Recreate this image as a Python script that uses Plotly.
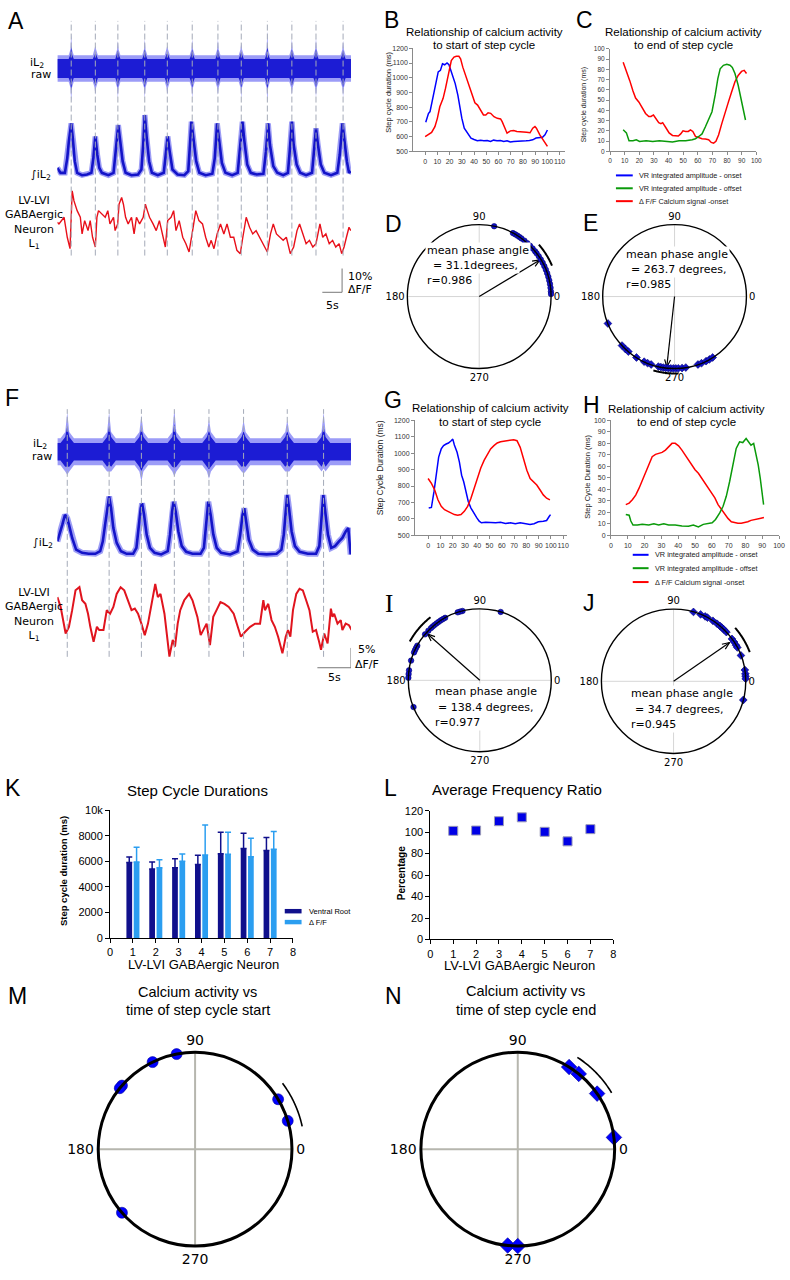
import numpy as np
import plotly.graph_objects as go

W, H = 790, 1280
def PX(x): return x / W
def PY(y): return 1 - y / H

SANS = "Liberation Sans, Arial, sans-serif"
VER = "DejaVu Sans, Verdana, sans-serif"
SERIF = "Liberation Serif, Times New Roman, serif"

# ================= DATA =================
# Panel A (time in s, red trace in % dF/F, raw / integrated VR in a.u.)
A_onsets = [3.5, 9.6, 15.3, 22.1, 27.8, 34.1, 40.6, 46.5, 53.1, 59.3, 65.4, 72.25]
A_raw_top = [14.6, 9.6, 11.7, 12.5, 9.6, 12.5, 12.5, 10.8, 15.8, 12.5, 12.9, 11.7]
A_raw_bot = [-14.2, -11.2, -12.5, -12.5, -11.2, -12.5, -11.2, -12.5, -14.2, -11.2, -12.1, -12.1]
A_raw_band = 5.6
A_raw_core = 4.0
A_raw_burst = 8.0
A_int_t = [0, 0.8, 1.9, 2.5, 2.9, 3.5, 3.9, 4.4, 5.0, 6.25, 7.5, 8.6, 9.1, 9.6, 10.1, 10.6, 11.25, 12.9, 14.2, 14.6,
           15, 15.4, 15.9, 16.5, 17.25, 18.75, 20.4, 21.25, 21.7, 22.1, 22.6, 23.2, 23.9, 25.4, 26.9, 27.4, 27.9, 28.4, 29.1, 30.4,
           32.1, 33.1, 33.5, 33.9, 34.4, 35.1, 35.9, 37.5, 39.2, 39.8, 40.4, 40.9, 41.6, 42.5, 44.2, 45.6, 46.25, 46.8, 47.3, 48,
           48.9, 50.4, 52.1, 52.75, 53.3, 53.75, 54.6, 55.6, 57.1, 58.3, 58.75, 59.3, 59.75, 60.5, 61.4, 62.9, 64.4, 64.9, 65.4, 65.9,
           66.6, 67.5, 69.2, 70.8, 71.4, 72.1, 72.6, 73.2, 73.75, 74.2]
A_int_v = [2.8, 0.7, 0.7, 6.9, 13.9, 21.5, 15.3, 5.6, 0.7, -0.3, 0, 0.7, 6.9, 16, 8.3, 2.8, 0.7, -0.3, 0.7, 6.9,
           15.3, 20.8, 13.9, 5.6, 0.7, -0.3, 0, 2.1, 12.5, 25, 15.3, 5.6, 0.7, -0.3, 0.7, 8.3, 16, 9.7, 2.1, 0,
           -0.3, 1.4, 12.5, 22.2, 15.3, 5.6, 0.7, -0.3, 0.3, 6.9, 21.5, 13.9, 4.9, 0.7, -0.3, 0.7, 11.1, 22.2, 13.9, 4.2,
           0.7, 0, 0.3, 9.7, 21.5, 12.5, 3.5, 0.7, -0.3, 0.7, 9.7, 22.2, 12.5, 4.2, 0.7, -0.3, 0.7, 9.7, 19.4, 12.5,
           4.2, 0.7, -0.3, 0.7, 8.3, 21.5, 13.9, 5.6, 0.7, 1.4]
A_red_t = [0, 0.4, 1.7, 2.5, 3.2, 3.75, 4.2, 5.0, 5.8, 6.25, 6.9, 7.75, 8.3, 8.9, 9.6, 10.0, 10.4, 11.25, 12.1, 12.75,
           13.3, 14.2, 14.6, 15.25, 15.6, 16.25, 16.7, 17.25, 17.9, 18.75, 19.4, 20.0, 20.8, 21.7, 22.25, 22.75, 23.3, 24.2, 25.0, 25.8,
           26.7, 27.3, 27.9, 28.75, 29.4, 30.0, 30.8, 31.7, 32.5, 33.3, 34.2, 35.0, 35.8, 36.7, 37.5, 38.3, 38.9, 39.6, 40.4, 41.25,
           42.1, 42.9, 43.75, 44.6, 45.4, 46.25, 46.9, 47.75, 48.6, 49.4, 50.25, 51.1, 52.1, 53.1, 53.9, 54.6, 55.4, 56.25, 57.1, 57.9,
           58.9, 59.75, 60.6, 61.25, 62.1, 62.9, 63.75, 64.6, 65.4, 66.4, 67.1, 67.9, 68.75, 69.6, 70.4, 71.25, 71.9, 72.5, 73.1, 73.75, 74.2]
A_red_v = [13.2, 12.5, 15.3, 6.9, 2.1, 26.4, 22.2, 18.1, 15.3, 8.3, 13.9, 9.7, 13.9, 6.9, 2.8, 15.3, 18.1, 16.7, 15.3, 18.1,
           12.5, 15.3, 9.7, 12.5, 20.8, 23.6, 20.8, 15.3, 12.5, 15.3, 8.3, 15.3, 12.5, 15.3, 20.8, 18.1, 15.3, 12.5, 9.7, 13.9,
           6.9, 2.8, 13.9, 15.3, 18.1, 9.7, 13.9, 6.9, 4.2, 0.7, 9.7, 18.1, 13.9, 12.5, 6.9, 2.8, 5.6, 2.1, 8.3, 12.5,
           8.3, 12.5, 6.9, 6.9, 1.4, 0, 6.9, 15.3, 11.1, 8.3, 9.7, 6.9, 4.2, 0.7, 8.3, 12.5, 8.3, 6.9, 5.6, 6.9,
           0, 2.8, 9.7, 12.5, 8.3, 4.2, 5.6, 2.8, 4.2, 12.5, 6.9, 8.3, 4.2, 5.6, 2.8, 4.2, 0, 2.8, 6.9, 11.1, 9.7]
A_end = 74.25
A_bar_pct, A_bar_s = 10, 5

# Panel F
F_onsets = [1.47, 7.7, 12.5, 17.4, 22.55, 27.7, 34.2, 39.6]
F_raw_top = [10.0, 10.0, 9.2, 10.8, 8.2, 8.0, 8.0, 10.0]
F_raw_bot = [-5.8, -5.0, -7.5, -6.2, -6.8, -5.5, -5.0, -4.2]
F_raw_band = 3.4
F_raw_core = 2.2
F_raw_burst = 5.0
F_int_t = [0, 0.34, 0.74, 1.13, 1.47, 1.72, 2.2, 2.79, 3.68, 4.66, 5.64, 6.37, 6.76, 7.1, 7.4, 7.7, 7.99, 8.33, 8.82, 9.46,
           10.3, 11.27, 11.76, 12.1, 12.4, 12.6, 12.9, 13.28, 13.77, 14.46, 15.44, 16.42, 16.76, 17.06, 17.3, 17.6, 18, 18.5, 19.17, 20.1,
           21.3, 21.8, 22.16, 22.45, 22.8, 23.2, 23.7, 24.36, 25.7, 26.8, 27.2, 27.55, 27.8, 28.1, 28.48, 29.07, 29.9, 31.13, 32.6, 33.33,
           33.68, 33.97, 34.2, 34.46, 34.85, 35.34, 36.03, 37.25, 38.48, 38.97, 39.26, 39.56, 39.85, 40.25, 40.74, 41.3, 41.9, 42.4, 42.9, 43.28, 43.63]
F_int_v = [2.9, 4.6, 7.1, 9.6, 8.75, 7.1, 3.75, 0.8, 0, -0.25, -0.25, 0.4, 2.9, 7.1, 11.25, 14.2, 11.25, 6.25, 2.5, 0.4,
           -0.25, -0.25, 1.25, 6.25, 11.25, 12.5, 9.6, 4.6, 1.25, 0, -0.4, 0.4, 4.6, 10.4, 12.9, 10.4, 5.4, 1.7, 0.25, -0.25,
           -0.25, 1.25, 7.9, 12.9, 9.6, 4.6, 1.25, 0, -0.4, 0.4, 4.6, 9.6, 11.25, 7.9, 3.3, 0.8, -0.25, -0.4, -0.25, 0.8,
           4.6, 10.4, 14.6, 11.25, 5.4, 1.7, 0.25, -0.25, -0.25, 1.7, 7.9, 14.6, 10.4, 4.6, 1.25, 1.7, 2.9, 3.75, 5.4, 6.25, -0.4]
F_red_t = [0, 0.49, 1.23, 1.72, 2.2, 2.7, 3.28, 3.68, 4.17, 4.56, 4.9, 5.39, 5.88, 6.23, 6.86, 7.35, 7.84, 8.33, 8.82, 9.41,
           9.95, 10.44, 11.03, 11.52, 12.0, 12.5, 13.0, 13.48, 13.97, 14.56, 14.95, 15.34, 15.93, 16.32, 16.67, 17.16, 17.5, 17.9, 18.28, 18.87,
           19.6, 20.1, 20.83, 21.32, 21.91, 22.2, 22.7, 23.19, 23.68, 24.26, 24.85, 25.49, 26.23, 26.8, 27.3, 27.94, 28.68, 29.41, 30.15, 30.64,
           30.88, 31.37, 31.86, 32.35, 32.84, 33.48, 33.97, 34.31, 34.66, 35.05, 35.54, 36.03, 36.52, 37.01, 37.5, 37.99, 38.48, 38.87, 39.22, 39.7,
           40.2, 40.69, 40.93, 41.18, 41.67, 42.16, 42.4, 42.89, 43.38, 43.77]
F_red_v = [15, 12.5, 5.8, 7.5, 11.7, 16.7, 17.5, 14.2, 13.3, 10.8, 7.5, 3.75, 7.5, 6.7, 6.7, 11.7, 10.8, 12.5, 15.8, 17.5,
           16.7, 14.2, 11.7, 12.1, 10.8, 8.3, 5.4, 8.3, 12.5, 18.3, 15, 15.8, 10.8, 5, 0, 4.2, 2.5, 8.3, 11.7, 14.2,
           15.8, 14.2, 10, 5.4, 7.5, 8.3, 2.9, 10, 11.7, 13.75, 13.3, 12.5, 10.8, 7.5, 5, 6.25, 7.5, 8.3, 8.3, 14.2,
           11.7, 13.3, 9.2, 7.5, 5, 0.8, 5, 6.7, 5, 11.7, 15.8, 17.1, 16.7, 14.2, 11.7, 6.25, 6.7, 4.2, 1.7, 5.8,
           3.3, 12.1, 10, 10.8, 8.3, 9.2, 6.7, 8.3, 7.9, 6.7]
F_end = 43.68
F_bar_pct, F_bar_s = 5, 5

# Panel B (phase %, step cycle duration ms)
B_blue_x = [0.5, 2.7, 4, 6.7, 8.8, 10.7, 12.5, 14.2, 16, 17.9, 19.5, 20.9, 22.7, 24.6, 26.8, 28.4, 30, 32, 34.8, 37.5,
            40, 42.7, 45.4, 48, 50.8, 53.5, 56, 58.8, 61.6, 64.3, 67, 69.7, 72.4, 75, 77.8, 80, 82.6, 85.3, 88, 90.7, 93.3, 96, 98, 100]
B_blue_y = [697, 757, 770, 880, 970, 1040, 1050, 1095, 1088, 1100, 1088, 1050, 1005, 960, 880, 790, 725, 657, 623, 590,
            580, 572, 576, 572, 574, 567, 576, 572, 574, 567, 572, 563, 567, 567, 572, 567, 572, 574, 578, 590, 594, 596, 612, 645]
B_red_x = [0, 2.7, 5.3, 8, 10, 12, 14.7, 16.6, 18.8, 20, 21.4, 23.6, 25.5, 27.6, 29, 30.8, 33.5, 36.2, 38.8, 40.7,
           42.9, 45.6, 47.7, 49.6, 51.5, 53.6, 56.3, 59, 61.7, 63, 64.9, 67, 69.7, 72.4, 75, 77.8, 80.4, 83, 85.8, 88,
           89.8, 91, 93.8, 96.5, 98.6, 100]
B_red_y = [600, 612, 628, 668, 724, 803, 860, 926, 1016, 1072, 1117, 1140, 1146, 1146, 1128, 1072, 1005, 937, 881, 830,
           814, 780, 747, 747, 762, 758, 735, 724, 720, 702, 668, 623, 639, 641, 635, 635, 635, 630, 626, 657,
           668, 657, 612, 578, 545, 534]
# Panel C
C_red_x = [9, 11.2, 13.5, 15.7, 17.5, 19.8, 22, 24.3, 26.5, 28, 29.7, 31.5, 33.3, 34.8, 36, 38.2, 40.4, 42.7, 45, 46.7,
           48.3, 49.9, 51.7, 53.5, 55, 56.6, 58.4, 60.7, 62.9, 65.2, 67.4, 69.2, 70.8, 72.4, 74.2, 76.4, 78.7, 80.9, 83.1, 85.4,
           87.6, 89.9, 91.7, 93.3]
C_red_y = [87, 79, 69, 59, 52, 48, 42, 37, 34, 34, 35.5, 32, 28, 27, 28, 23, 18, 15.5, 15, 15,
           17, 20, 19.4, 19.4, 21, 19.4, 14.5, 13, 12.3, 12, 11.3, 8.7, 8, 9.7, 16, 27, 39, 48, 58, 68,
           74, 78, 79, 76]
C_green_x = [9, 11.2, 13, 15.7, 18, 20.2, 24.7, 29.2, 33.7, 38.2, 42.7, 47.2, 51.7, 56.2, 58.4, 60.7, 62.9, 65.2, 67.4, 69.7,
             71.9, 73.7, 75.3, 77.5, 79.8, 82, 83.6, 85.4, 87.6, 89.4, 91, 92.6]
C_green_y = [21, 18, 10.3, 10.3, 11.3, 9.7, 10.3, 9.7, 10.3, 9.7, 9, 10.3, 10.3, 11.3, 12.3, 14.5, 17, 24, 30.6, 38.7,
             55, 71, 80.6, 84, 85, 84, 82, 76, 64.5, 53, 42, 30.6]
# Panel G
G_blue_x = [0.5, 2.7, 4.8, 6.7, 8.6, 10.7, 12.6, 14.7, 16.6, 18.8, 20.1, 21.4, 23.6, 25.5, 27.3, 29, 30.8, 32.7, 34.9, 37,
            39.7, 41.6, 43.4, 46.9, 50.9, 55, 59, 63, 67, 71, 75, 79, 83, 86.3, 89.8, 93.8, 96.5, 98.7, 99.7]
G_blue_y = [666, 670, 766, 886, 976, 1026, 1046, 1056, 1062, 1076, 1086, 1050, 1006, 946, 866, 826, 766, 706, 666, 636,
            606, 586, 576, 580, 576, 576, 580, 572, 576, 570, 576, 570, 566, 570, 582, 586, 590, 616, 626]
G_red_x = [0, 2.7, 5.4, 8, 10.7, 13.4, 16.1, 18.8, 21.4, 24.1, 26.8, 29.5, 32.2, 34.9, 37.5, 40.2, 42.9, 45.6, 48.3, 50.9,
           53.6, 56.3, 59, 61.7, 64.3, 67, 69.7, 72.4, 75, 77.7, 80.4, 83.1, 85.8, 88.5, 91.2, 93.8, 96.5, 99.2]
G_red_y = [846, 816, 776, 716, 676, 656, 646, 636, 626, 622, 626, 646, 676, 726, 786, 856, 910, 956, 996, 1026,
           1046, 1062, 1070, 1072, 1076, 1080, 1082, 1076, 1036, 966, 896, 846, 826, 806, 776, 746, 726, 716]
# Panel H
H_red_x = [8.8, 10.8, 12.7, 14.7, 16.7, 18.6, 20.6, 22.5, 24.5, 26.5, 28.4, 30.4, 32.4, 34.3, 36.3, 38.2, 40.2, 42.2, 44.1, 46.1,
           48, 50, 52, 53.9, 55.9, 57.8, 59.8, 61.8, 63.7, 65.7, 67.6, 69.6, 71.6, 73.5, 75.5, 77.5, 79.4, 81.4, 83.3, 85.3,
           87.3, 89.2, 91]
H_red_y = [26.7, 28, 31, 35, 41, 48, 55.5, 62.6, 68.4, 70.4, 71.3, 72.1, 74.1, 77, 80, 80, 77.9, 74.1, 69.8, 65.5,
           61.2, 57, 54, 49.7, 45.4, 41, 36.8, 32.5, 26.7, 22.4, 18.7, 14.7, 11.8, 10.9, 10.5, 10.5, 10.9, 11.8, 13, 13.8,
           14.3, 14.8, 15.4]
H_green_x = [8.8, 10.8, 11.8, 13.1, 15.7, 18.6, 22.5, 25.5, 28.4, 31.4, 34.3, 38.2, 42.2, 46.1, 49, 52, 54.9, 57.8, 60.2, 62.2,
             64.7, 66.7, 68.6, 70.6, 72.5, 74.5, 76.5, 78.4, 80.4, 81.8, 83.3, 84.9, 86.3, 87.6, 88.8, 89.8, 90.8]
H_green_y = [18.1, 17.5, 12.4, 8.9, 8.9, 9.5, 8.9, 10, 8.9, 10, 8.9, 8.9, 8, 7.8, 8.9, 7.2, 9.5, 10, 10.9, 13.8,
             19.5, 25.3, 33.9, 46.8, 61.2, 75.6, 81.3, 80.7, 84.2, 81.3, 78.4, 79.9, 71.3, 61.2, 49.7, 38.2, 26.7]

# Circular plots (phase angles in degrees)
D_angles = [78, 62, 60, 58, 56, 54, 51, 48, 45, 42, 39, 37, 34, 31, 28, 25, 22, 19, 16, 13, 10, 7, 4, 2]
D_mean, D_r, D_ci = 31.1, 0.986, [23, 41]
E_angles = [202, 223, 227, 230, 238, 245, 248, 251, 257, 259, 261, 263, 265, 267, 269, 271, 273, 276, 279, 289, 292, 296, 299, 302]
E_mean, E_r, E_ci = 263.7, 0.985, [254, 273]
I_angles = [73, 104, 106, 108, 119, 121, 123, 125, 127, 129, 131, 133, 136, 140, 151, 153, 155, 157, 164, 172, 175, 178, 202]
I_mean, I_r, I_ci = 138.4, 0.977, [128, 151]
J_angles = [74, 68, 64, 62, 57, 53, 50, 48, 46, 43, 36, 33, 30, 28, 21, 9, 6, 4, 2, 345]
J_mean, J_r, J_ci = 34.7, 0.945, [21, 41]
M_angles = [17, 31, 101, 116, 139, 141, 221]
M_ci = [12, 37]
N_angles = [7, 35, 51, 58, 264, 270]
N_ci = [31, 57]

# Panel K / L
neurons = [1, 2, 3, 4, 5, 6, 7]
K_vr = [5900, 5400, 5500, 5750, 6600, 7000, 6850]
K_vr_err = [440, 550, 700, 720, 1670, 1200, 1010]
K_df = [5950, 5500, 6000, 6500, 6550, 6350, 6950]
K_df_err = [1140, 630, 570, 2340, 1720, 1460, 1380]
L_ratio = [101.2, 101.5, 110.2, 113.8, 100.3, 91.4, 102.8]

# ================= FIGURE =================
fig = go.Figure()
ann, shapes = [], []

def tr(**kw):
    kw.setdefault('hoverinfo', 'skip')
    kw.setdefault('showlegend', False)
    fig.add_trace(go.Scatter(**kw))

def text(s, x, y, size, family=SANS, xanchor='center', yanchor='middle', color='black', angle=0, bg=None):
    d = dict(text=s, x=PX(x), y=PY(y), xref='paper', yref='paper', showarrow=False,
             xanchor=xanchor, yanchor=yanchor, textangle=angle,
             font=dict(family=family, size=size, color=color))
    if bg:
        d['bgcolor'] = bg
    ann.append(d)

def raw_band(onsets, tops, bots, band, burst, core, t_end, w1, w2, c, xa, ya):
    ts, up, lo, cu, cl = [0.0], [band], [-band], [core], [-core]
    for td, tp, bt in zip(onsets, tops, bots):
        ts += [td - w1, td - w2, td, td + w2, td + w1]
        up += [band, burst, tp, burst, band]
        lo += [-band, -burst, bt, -burst, -band]
        cu += [core, burst * 0.75, tp * 0.65, burst * 0.75, core]
        cl += [-core, -burst * 0.75, bt * 0.65, -burst * 0.75, -core]
    ts.append(t_end); up.append(band); lo.append(-band); cu.append(core); cl.append(-core)
    xs = ts + ts[::-1]
    tr(x=xs, y=[c + v for v in up] + [c + v for v in lo[::-1]], mode='lines', fill='toself',
       fillcolor='rgba(90,90,242,0.6)', line=dict(width=0), xaxis=xa, yaxis=ya)
    tr(x=xs, y=[c + v for v in cu] + [c + v for v in cl[::-1]], mode='lines', fill='toself',
       fillcolor='#1c1cd4', line=dict(width=0), xaxis=xa, yaxis=ya)

def vdash(onsets, y0, y1, xa, ya):
    xs, ys = [], []
    for t in onsets:
        xs += [t, t, None]; ys += [y0, y1, None]
    tr(x=xs, y=ys, mode='lines', line=dict(color='#a4aab8', width=1, dash='6px,3px'), xaxis=xa, yaxis=ya)

# ---- Panel A ----
A_RAW, A_INT, A_RED, A_DASH, A_BARY, A_BART = 102.9, 58.3, 25.0, (24.2, 122.9), 8.75, 72.0
raw_band(A_onsets, A_raw_top, A_raw_bot, A_raw_band, A_raw_burst, A_raw_core, A_end, 0.65, 0.2, A_RAW, 'x', 'y')
tr(x=A_int_t, y=[A_INT + v for v in A_int_v], mode='lines', line=dict(color='rgba(60,60,235,0.5)', width=5.5), xaxis='x', yaxis='y')
tr(x=A_int_t, y=[A_INT + v for v in A_int_v], mode='lines', line=dict(color='#1414c8', width=2.6), xaxis='x', yaxis='y')
tr(x=A_red_t, y=[A_RED + v for v in A_red_v], mode='lines', line=dict(color='#e8101a', width=1.4), xaxis='x', yaxis='y')
vdash(A_onsets, *A_DASH, 'x', 'y')
tr(x=[A_BART - A_bar_s, A_BART, A_BART], y=[A_BARY, A_BARY, A_BARY + A_bar_pct], mode='lines',
   line=dict(color='#777777', width=1), xaxis='x', yaxis='y')

# ---- Panel F ----
F_RAW, F_INT, F_RED, F_DASH, F_BARY, F_BART = 57.5, 32.0, 5.83, (5.75, 68.25), 3.0, 43.68
raw_band(F_onsets, F_raw_top, F_raw_bot, F_raw_band, F_raw_burst, F_raw_core, F_end, 1.0, 0.3, F_RAW, 'x4', 'y4')
tr(x=F_int_t, y=[F_INT + v for v in F_int_v], mode='lines', line=dict(color='rgba(60,60,235,0.5)', width=6), xaxis='x4', yaxis='y4')
tr(x=F_int_t, y=[F_INT + v for v in F_int_v], mode='lines', line=dict(color='#1414c8', width=2.6), xaxis='x4', yaxis='y4')
tr(x=F_red_t, y=[F_RED + v for v in F_red_v], mode='lines', line=dict(color='#e0141e', width=2), xaxis='x4', yaxis='y4')
vdash(F_onsets, *F_DASH, 'x4', 'y4')
tr(x=[F_BART - F_bar_s, F_BART, F_BART], y=[F_BARY, F_BARY, F_BARY + F_bar_pct], mode='lines',
   line=dict(color='#777777', width=1), xaxis='x4', yaxis='y4')

# ---- B, C, G, H curves ----
BLUE, GREEN, RED = '#0000ff', '#0a9a0a', '#ff0000'
tr(x=B_blue_x, y=B_blue_y, mode='lines', line=dict(color=BLUE, width=1.5), xaxis='x2', yaxis='y2')
tr(x=B_red_x, y=B_red_y, mode='lines', line=dict(color=RED, width=1.5), xaxis='x2', yaxis='y2')
tr(x=C_red_x, y=C_red_y, mode='lines', line=dict(color=RED, width=1.5), xaxis='x3', yaxis='y3')
tr(x=C_green_x, y=C_green_y, mode='lines', line=dict(color=GREEN, width=1.5), xaxis='x3', yaxis='y3')
tr(x=G_blue_x, y=G_blue_y, mode='lines', line=dict(color=BLUE, width=1.5), xaxis='x5', yaxis='y5')
tr(x=G_red_x, y=G_red_y, mode='lines', line=dict(color=RED, width=1.5), xaxis='x5', yaxis='y5')
tr(x=H_red_x, y=H_red_y, mode='lines', line=dict(color=RED, width=1.5), xaxis='x6', yaxis='y6')
tr(x=H_green_x, y=H_green_y, mode='lines', line=dict(color=GREEN, width=1.5), xaxis='x6', yaxis='y6')

# ---- K bars ----
DARK, LIGHT = '#10108c', '#2b9ef0'
fig.add_trace(go.Bar(x=neurons, y=K_vr, width=0.25, offset=-0.285, marker=dict(color=DARK, line=dict(width=0)),
                     error_y=dict(type='data', array=K_vr_err, arrayminus=[0] * 7, symmetric=False, color=DARK, thickness=1.5, width=3),
                     xaxis='x7', yaxis='y7', showlegend=False, hoverinfo='skip'))
fig.add_trace(go.Bar(x=neurons, y=K_df, width=0.25, offset=0.035, marker=dict(color=LIGHT, line=dict(width=0)),
                     error_y=dict(type='data', array=K_df_err, arrayminus=[0] * 7, symmetric=False, color=LIGHT, thickness=1.5, width=3),
                     xaxis='x7', yaxis='y7', showlegend=False, hoverinfo='skip'))
# ---- L markers ----
tr(x=neurons, y=L_ratio, mode='markers', marker=dict(symbol='square', size=9, color='#0000e6', line=dict(color='#9a9ab8', width=1)),
   xaxis='x8', yaxis='y8')

# ---- circular plots ----
def arrow_head(theta, R, h=0.11, spread=22):
    th = np.radians(theta)
    tip = np.array([R * np.cos(th), R * np.sin(th)])
    back = -tip / np.linalg.norm(tip)
    rs, ts = [], []
    for s in (spread, None, -spread):
        if s is None:
            rs.append(R); ts.append(theta); continue
        c, si = np.cos(np.radians(s)), np.sin(np.radians(s))
        d = np.array([c * back[0] - si * back[1], si * back[0] + c * back[1]])
        p = tip + h * d
        rs.append(float(np.hypot(*p))); ts.append(float(np.degrees(np.arctan2(p[1], p[0]))))
    return rs, ts

def ptr(**kw):
    kw.setdefault('hoverinfo', 'skip'); kw.setdefault('showlegend', False); kw.setdefault('cliponaxis', False)
    fig.add_trace(go.Scatterpolar(**kw))

OUTER = 1.25   # radial extent of the invisible overlay used for the confidence arcs

def circ_panel(sub, over, angles, symbol, msize, ci, ci_r, ci_w, mean=None, rlen=None, mcolor='#1212cc', medge='#000070'):
    th = np.linspace(ci[0], ci[1], 40)
    ptr(r=[ci_r] * 40, theta=th, mode='lines', line=dict(color='black', width=ci_w), subplot=over)
    if mean is not None:
        ptr(r=[0, rlen], theta=[mean, mean], mode='lines', line=dict(color='black', width=1.2), subplot=sub)
        rs, ts = arrow_head(mean, rlen)
        ptr(r=rs, theta=ts, mode='lines', line=dict(color='black', width=1.2), subplot=sub)
    ptr(r=[1] * len(angles), theta=angles, mode='markers',
        marker=dict(symbol=symbol, size=msize, color=mcolor, line=dict(color=medge, width=0.6)), subplot=sub)

circ_panel('polar', 'polar7', D_angles, 'circle', 5.5, D_ci, 1.1, 2, D_mean, D_r)
circ_panel('polar2', 'polar8', E_angles, 'diamond', 6, E_ci, 1.07, 2, E_mean, E_r)
circ_panel('polar3', 'polar9', I_angles, 'circle', 5.5, I_ci, 1.12, 2, I_mean, I_r)
circ_panel('polar4', 'polar10', J_angles, 'diamond', 6, J_ci, 1.13, 2, J_mean, J_r)
circ_panel('polar5', 'polar11', M_angles, 'circle', 11, M_ci, 1.13, 1.6, mcolor='#0000ff', medge='#0000a0')
circ_panel('polar6', 'polar12', N_angles, 'diamond', 12, N_ci, 1.13, 1.6, mcolor='#0000ff', medge='#000090')

# ================= LAYOUT =================
layout = {}
hidden = dict(visible=False, showgrid=False, zeroline=False, fixedrange=True, showticklabels=False, ticks='')
layout['xaxis'] = dict(hidden, domain=[PX(55), PX(352)], range=[0, A_end], anchor='y')
layout['yaxis'] = dict(hidden, domain=[PY(310), PY(12)], range=[0, 124.17], anchor='x')
layout['xaxis4'] = dict(hidden, domain=[PX(55), PX(352)], range=[0, F_end], anchor='y4')
layout['yaxis4'] = dict(hidden, domain=[PY(680), PY(395)], range=[0, 71.25], anchor='x4')

def chart_axes(n, xd, yd, xr, yr, xt, yt, fs, col, lcol, tl):
    common = dict(showline=True, linecolor=lcol, linewidth=1, ticks='outside', ticklen=tl, tickcolor=lcol,
                  tickwidth=1, tickfont=dict(family=SANS, size=fs, color=col), showgrid=False, zeroline=False,
                  fixedrange=True, tickmode='array', tickangle=0)
    layout['xaxis%d' % n] = dict(common, domain=[PX(xd[0]), PX(xd[1])], range=xr, tickvals=xt, anchor='y%d' % n)
    layout['yaxis%d' % n] = dict(common, domain=[PY(yd[0]), PY(yd[1])], range=yr, tickvals=yt, anchor='x%d' % n)

t0_110 = list(range(0, 111, 10)); t0_100 = list(range(0, 101, 10)); t500 = list(range(500, 1201, 100))
chart_axes(2, (415, 568), (146.7, 42.7), [-9.7, 114], [500, 1200], t0_110, t500, 7, '#333', '#8a8a8a', 3)
chart_axes(3, (614, 762), (146.7, 43.3), [0, 100], [0, 100], t0_100, t0_100, 6.5, '#333', '#8a8a8a', 3)
chart_axes(5, (416.7, 570), (534.3, 418.3), [-10.7, 112.7], [500, 1200], t0_110, t500, 7, '#333', '#8a8a8a', 3)
chart_axes(6, (615, 785), (534.3, 418.3), [0, 100], [0, 100], t0_100, t0_100, 7, '#333', '#8a8a8a', 3)
chart_axes(7, (108.3, 293.3), (941, 811.7), [0, 8], [0, 10000], list(range(9)), list(range(0, 10001, 2000)), 11, 'black', 'black', 4)
chart_axes(8, (432.3, 617.3), (942.3, 812.3), [0, 8], [0, 120], list(range(9)), list(range(0, 121, 20)), 11, 'black', 'black', 4)

RADIAL_OFF = dict(visible=False, showticklabels=False, ticks='', showgrid=False, showline=False)

def polar_layout(cx, cy, r, lw, gw, gc, fs):
    return dict(domain=dict(x=[PX(cx - r), PX(cx + r)], y=[PY(cy + r), PY(cy - r)]), bgcolor='rgba(0,0,0,0)',
                radialaxis=dict(RADIAL_OFF, range=[0, 1]),
                angularaxis=dict(tickmode='array', tickvals=[0, 90, 180, 270], ticktext=['0', '90', '180', '270'],
                                 ticks='', showline=True, linecolor='black', linewidth=lw, showgrid=True,
                                 gridcolor=gc, gridwidth=gw, tickfont=dict(family=VER, size=fs, color='black'),
                                 direction='counterclockwise', rotation=0))

def overlay_layout(cx, cy, r):
    R = r * OUTER
    return dict(domain=dict(x=[PX(cx - R), PX(cx + R)], y=[PY(cy + R), PY(cy - R)]), bgcolor='rgba(0,0,0,0)',
                radialaxis=dict(RADIAL_OFF, range=[0, OUTER]),
                angularaxis=dict(visible=False, showticklabels=False, ticks='', showgrid=False, showline=False,
                                 direction='counterclockwise', rotation=0))

circles = [(481.7, 293.3, 72.7, 1.4, 0.8, '#d6d6d6', 10), (679.3, 293.3, 72.7, 1.4, 0.8, '#d6d6d6', 10),
           (482.3, 680.7, 72.3, 1.4, 0.8, '#d6d6d6', 10), (678.3, 681.7, 73.0, 1.4, 0.8, '#d6d6d6', 10),
           (194.3, 1154, 98, 3, 1.8, '#b6b6ae', 14), (520.7, 1154, 98, 3, 1.8, '#b6b6ae', 14)]
for i, c in enumerate(circles):
    layout['polar' if i == 0 else 'polar%d' % (i + 1)] = polar_layout(*c)
    layout['polar%d' % (i + 7)] = overlay_layout(c[0], c[1], c[2])

# ---- texts ----
for s, x, y in [('A', 3, 15), ('B', 383, 14), ('C', 578, 14), ('D', 384, 220), ('E', 585, 219), ('F', 0, 396),
                ('G', 383, 398), ('H', 585, 403), ('J', 585, 603), ('K', 0, 789), ('L', 383, 789), ('M', 3, 999), ('N', 384, 999)]:
    text(s, x, y, 23, xanchor='left')
text('I', 384, 603, 25, family=SERIF, xanchor='left')

# trace labels A and F
text('iL<sub>2</sub>', 34, 58, 11, VER); text('raw', 38.5, 69, 11, VER)
text('\u222biL<sub>2</sub>', 38.5, 171, 11, VER)
text('LV-LVI<br>GABAergic<br>Neuron<br>L<sub>1</sub>', 31, 219, 11, VER)
text('iL<sub>2</sub>', 37, 442, 11, VER); text('raw', 39, 455, 11, VER)
text('\u222biL<sub>2</sub>', 40, 542, 11, VER)
text('LV-LVI<br>GABAergic<br>Neuron<br>L<sub>1</sub>', 31, 614, 11, VER)
# scale bars
text('10%', 347, 273, 11, VER, xanchor='left'); text('\u0394F/F', 347, 286, 11, VER, xanchor='left')
text('5s', 333, 302, 11, VER)
text('5%', 357, 650, 11, VER, xanchor='left'); text('\u0394F/F', 354, 665, 11, VER, xanchor='left')
text('5s', 335, 678, 11, VER)

# titles B C G H
for cx, y1, y2, l2 in [(487, 26, 39, 'to start of step cycle'), (688, 26, 39, 'to end of step cycle'),
                       (493, 406, 420, 'to start of step cycle'), (691, 407, 420, 'to end of step cycle')]:
    text('Relationship of calcium activity', cx, y1, 11.5)
    text(l2, cx, y2, 11.5)
text('Step cycle duration (ms)', 390, 87, 7.5, angle=-90, color='#222')
text('Step cycle duration (ms)', 588, 100, 7, angle=-90, color='#222')
text('Step Cycle Duration (ms)', 381, 466, 8.5, angle=-90, color='#222')
text('Step Cycle Duration (ms)', 591, 475, 7.5, angle=-90, color='#222')

# legends C and H
for (x0, x1, xt, ys) in [(620, 637, 641, (171, 184, 197)), (637, 653, 657, (554, 567.5, 581.5))]:
    for (lbl, col), y in zip([('VR integrated amplitude - onset', BLUE), ('VR integrated amplitude - offset', GREEN),
                              ('\u0394 F/F Calcium signal -onset', RED)], ys):
        shapes.append(dict(type='line', xref='paper', yref='paper', x0=PX(x0), x1=PX(x1), y0=PY(y), y1=PY(y),
                           line=dict(color=col, width=2)))
        text(lbl, xt, y, 7.3, xanchor='left', color='#222')

# mean phase texts
for lines in [[('mean phase angle', 427, 247), ('= 31.1degrees,', 433, 262), ('r=0.986', 427, 277)],
              [('mean phase angle', 628, 251), ('= 263.7 degrees,', 633, 266), ('r=0.985', 628, 281)],
              [('mean phase angle', 435, 692), ('= 138.4 degrees,', 438, 708), ('r=0.977', 435, 723)],
              [('mean phase angle', 633, 694), ('= 34.7 degrees,', 637, 710), ('r=0.945', 633, 725)]]:
    for s, x, y in lines:
        text(s, x, y, 11, VER, xanchor='left', bg='white')

# K and L texts
text('Step Cycle Durations', 197, 792, 15)
text('LV-LVI GABAergic Neuron', 203, 968, 13)
text('<b>Step cycle duration (ms)</b>', 62, 873, 9.5, angle=-90)
shapes.append(dict(type='rect', xref='paper', yref='paper', x0=PX(285), x1=PX(302), y0=PY(916), y1=PY(911.5),
                   fillcolor=DARK, line=dict(width=0)))
shapes.append(dict(type='rect', xref='paper', yref='paper', x0=PX(285), x1=PX(302), y0=PY(927), y1=PY(922.5),
                   fillcolor=LIGHT, line=dict(width=0)))
text('Ventral Root', 307, 914, 7.5, xanchor='left')
text('\u0394 F/F', 307, 925, 7.5, xanchor='left')
text('Average Frequency Ratio', 520, 791, 15)
text('LV-LVI GABAergic Neuron', 522, 969, 13)
text('<b>Percentage</b>', 403, 875, 10, angle=-90)

# M and N titles
text('Calcium activity vs', 197, 995, 14.5)
text('time of step cycle start', 197, 1013, 14.5)
text('Calcium activity vs', 529, 994, 14.5)
text('time of step cycle end', 529, 1013, 14.5)

fig.update_layout(width=W, height=H, margin=dict(l=0, r=0, t=0, b=0, pad=0), paper_bgcolor='white',
                  plot_bgcolor='white', showlegend=False, barmode='overlay', annotations=ann, shapes=shapes, **layout)

fig.write_html("out.html", config={'displayModeBar': False}, post_script="document.body.style.margin='0';")
